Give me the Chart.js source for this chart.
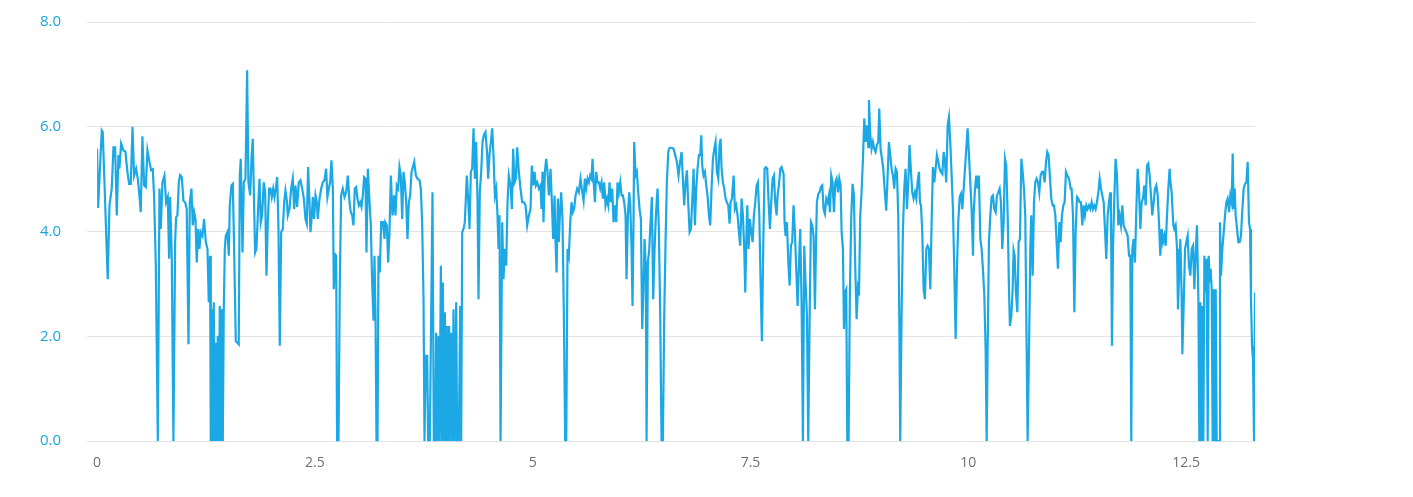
<!DOCTYPE html>
<html>
<head>
<meta charset="utf-8">
<script src="https://cdn.jsdelivr.net/npm/chart.js@4.4.0/dist/chart.umd.min.js"></script>
<style>
  html, body { margin: 0; padding: 0; background: #fff; }
  #wrap { width: 1413px; height: 497px; position: relative; }
</style>
</head>
<body>
<div id="wrap"><canvas id="chart"></canvas></div>
<script>
'use strict';

// x positions of the samples
const timeValues = [
  0, 0.011, 0.054, 0.065, 0.122, 0.142, 0.168, 0.188, 0.207, 0.226, 0.245, 0.256, 0.276, 0.302,
  0.325, 0.348, 0.367, 0.387, 0.406, 0.425, 0.448, 0.467, 0.486, 0.501, 0.520, 0.540, 0.559, 0.578,
  0.601, 0.620, 0.639, 0.654, 0.674, 0.697, 0.716, 0.731, 0.750, 0.773, 0.792, 0.811, 0.827, 0.838,
  0.857, 0.876, 0.896, 0.907, 0.922, 0.938, 0.953, 0.972, 0.991, 1.010, 1.029, 1.049,
  1.064, 1.083, 1.098, 1.114, 1.129, 1.144, 1.160, 1.175, 1.190, 1.209, 1.228, 1.248, 1.267, 1.282,
  1.297, 1.305, 1.316, 1.328, 1.339, 1.351, 1.362, 1.374, 1.385, 1.397, 1.408, 1.420, 1.431, 1.443,
  1.454, 1.466, 1.477, 1.496, 1.512, 1.523, 1.542, 1.558, 1.573, 1.592, 1.611, 1.626, 1.638, 1.649,
  1.669, 1.684, 1.703, 1.722, 1.737, 1.757, 1.772, 1.787, 1.803, 1.814, 1.829, 1.848, 1.864, 1.879,
  1.894, 1.913, 1.929, 1.944, 1.959, 1.975, 1.990, 2.005, 2.021, 2.036, 2.051, 2.067, 2.082, 2.097,
  2.113, 2.132, 2.147, 2.162, 2.178,
  2.189, 2.208, 2.227, 2.246, 2.262, 2.277, 2.296, 2.315, 2.334, 2.354, 2.373, 2.392, 2.407, 2.422,
  2.438, 2.449, 2.465, 2.476, 2.491, 2.507, 2.522, 2.533, 2.553, 2.572, 2.591, 2.610, 2.629, 2.644,
  2.660, 2.675, 2.690, 2.706, 2.717, 2.729, 2.744, 2.755, 2.771, 2.786, 2.801, 2.820, 2.840, 2.859,
  2.878, 2.897, 2.912, 2.928, 2.943, 2.958, 2.974, 2.989, 3.004, 3.020, 3.035, 3.050, 3.065, 3.081,
  3.092, 3.108, 3.127, 3.142, 3.157, 3.173, 3.184, 3.196, 3.207, 3.219, 3.230, 3.245, 3.261, 3.280, 3.299,
  3.307, 3.326, 3.341, 3.356, 3.372, 3.391, 3.410, 3.425, 3.440, 3.456, 3.471, 3.486, 3.502, 3.517,
  3.532, 3.548, 3.563, 3.578, 3.594, 3.609, 3.624, 3.640, 3.659, 3.678, 3.701, 3.716, 3.731, 3.747,
  3.758, 3.773, 3.789, 3.800, 3.819, 3.850, 3.865, 3.881, 3.892, 3.904, 3.919, 3.930, 3.946, 3.957,
  3.969, 3.980, 3.992, 4.003, 4.014, 4.026, 4.041, 4.053, 4.064, 4.080, 4.091, 4.106, 4.122, 4.133,
  4.152, 4.168, 4.179, 4.191, 4.206, 4.221, 4.244, 4.259, 4.275, 4.290, 4.305, 4.321, 4.336, 4.351,
  4.367, 4.378, 4.393, 4.409, 4.424,
  4.439, 4.458, 4.478, 4.489, 4.504, 4.520, 4.535, 4.550, 4.566, 4.581, 4.596, 4.608, 4.619, 4.631,
  4.650, 4.665, 4.680, 4.696, 4.711, 4.726, 4.746, 4.761, 4.776, 4.791, 4.807, 4.822, 4.841, 4.860,
  4.879, 4.899, 4.918, 4.937, 4.956, 4.975, 4.990, 5.006, 5.021, 5.036, 5.052, 5.071, 5.090, 5.101,
  5.113, 5.124, 5.140, 5.155, 5.170, 5.186, 5.205, 5.220, 5.235, 5.251, 5.262, 5.274, 5.289, 5.300,
  5.312, 5.327, 5.342, 5.358, 5.373, 5.385, 5.400, 5.415, 5.431, 5.446, 5.461, 5.476, 5.492, 5.511, 5.530, 5.549,
  5.564, 5.584, 5.599, 5.614, 5.630, 5.645, 5.660, 5.675, 5.687, 5.698, 5.714, 5.729, 5.744, 5.760,
  5.775, 5.790, 5.806, 5.821, 5.836, 5.852, 5.867, 5.882, 5.897, 5.913, 5.928, 5.943, 5.959, 5.974,
  5.989, 6.005, 6.020, 6.035, 6.050, 6.066, 6.077, 6.093, 6.108, 6.119, 6.135, 6.146, 6.158, 6.165,
  6.181, 6.196, 6.211, 6.227, 6.242, 6.257, 6.272, 6.284, 6.299, 6.307, 6.322, 6.338, 6.353, 6.368,
  6.383, 6.399, 6.414, 6.433, 6.448, 6.464, 6.479, 6.494, 6.510, 6.525, 6.540, 6.556, 6.571, 6.598, 6.617, 6.636, 6.655, 6.674,
  6.690, 6.709, 6.724, 6.739, 6.755, 6.770, 6.785, 6.801, 6.816, 6.831, 6.847, 6.862, 6.877, 6.892,
  6.908, 6.923, 6.935, 6.946, 6.961, 6.977, 6.992, 7.007, 7.023, 7.038, 7.053, 7.069, 7.084, 7.099,
  7.114, 7.130, 7.145, 7.157, 7.168, 7.183, 7.199, 7.214, 7.229, 7.245, 7.260, 7.271, 7.287, 7.306,
  7.321, 7.336, 7.352, 7.367, 7.382, 7.398, 7.413, 7.428, 7.440, 7.451, 7.463, 7.478, 7.493, 7.509,
  7.524, 7.539, 7.555, 7.570, 7.585, 7.601, 7.616, 7.631, 7.646, 7.662, 7.677, 7.692, 7.708, 7.723,
  7.738, 7.754, 7.769, 7.784, 7.800,
  7.811, 7.826, 7.842, 7.857, 7.880, 7.891, 7.903, 7.918, 7.933, 7.949, 7.964, 7.979, 7.994, 8.010,
  8.025, 8.041, 8.056, 8.071, 8.087, 8.102, 8.117, 8.132, 8.148, 8.163, 8.178, 8.194, 8.209, 8.224,
  8.240, 8.251, 8.262, 8.278, 8.293, 8.308, 8.324, 8.339, 8.354, 8.370, 8.385, 8.400, 8.412, 8.427,
  8.442, 8.458, 8.473, 8.488, 8.504, 8.519, 8.534, 8.546, 8.561, 8.573, 8.584, 8.599, 8.611, 8.626,
  8.641, 8.657, 8.672, 8.687, 8.703, 8.718, 8.733, 8.745, 8.760, 8.775, 8.791, 8.806, 8.821, 8.837,
  8.852, 8.860, 8.875, 8.890, 8.905, 8.921,
  8.936, 8.951, 8.967, 8.978, 8.993, 9.009, 9.024, 9.039, 9.058, 9.074, 9.089, 9.104, 9.120, 9.135,
  9.150, 9.166, 9.181, 9.196, 9.208, 9.219, 9.234, 9.250, 9.265, 9.280, 9.296, 9.311, 9.326, 9.342,
  9.357, 9.372, 9.388, 9.403, 9.418, 9.434, 9.445, 9.457, 9.472, 9.487, 9.502, 9.518, 9.533, 9.548,
  9.564, 9.579, 9.594, 9.610, 9.625, 9.640, 9.656, 9.671, 9.686, 9.702, 9.717, 9.732, 9.747, 9.763,
  9.778, 9.793, 9.809, 9.824, 9.839, 9.855, 9.870, 9.885, 9.901, 9.916, 9.931, 9.947, 9.962, 9.977,
  9.992, 10.008, 10.023, 10.038, 10.054,
  10.061, 10.077, 10.092, 10.107, 10.122, 10.138, 10.153, 10.168, 10.184, 10.199, 10.211, 10.222, 10.237, 10.253,
  10.268, 10.283, 10.298, 10.314, 10.329, 10.344, 10.360, 10.375, 10.390, 10.406, 10.421, 10.436, 10.452, 10.467,
  10.478, 10.494, 10.509, 10.520, 10.532, 10.547, 10.563, 10.578, 10.593, 10.609, 10.624, 10.639, 10.654, 10.670,
  10.681, 10.697, 10.712, 10.723, 10.739, 10.754, 10.769, 10.784, 10.800, 10.815, 10.830, 10.846, 10.861, 10.876,
  10.892, 10.907, 10.922, 10.938, 10.953, 10.968, 10.983, 10.999, 11.014, 11.029, 11.045, 11.060, 11.075, 11.091,
  11.106, 11.121, 11.137, 11.156, 11.175,
  11.186, 11.202, 11.217, 11.232, 11.248, 11.263, 11.278, 11.293, 11.309, 11.324, 11.339, 11.355, 11.370, 11.385,
  11.401, 11.416, 11.431, 11.447, 11.462, 11.477, 11.493, 11.508, 11.523, 11.538, 11.554, 11.569, 11.584, 11.600,
  11.615, 11.630, 11.638, 11.649, 11.661, 11.676, 11.691, 11.707, 11.722, 11.737, 11.753, 11.768, 11.783, 11.799,
  11.814, 11.829, 11.845, 11.860, 11.871, 11.883, 11.898, 11.913, 11.929, 11.944, 11.959, 11.975, 11.990, 12.005,
  12.021, 12.036, 12.051, 12.066, 12.082, 12.097, 12.112, 12.128, 12.143, 12.158, 12.174, 12.189, 12.204, 12.220,
  12.235, 12.250, 12.266, 12.281, 12.296, 12.311,
  12.319, 12.334, 12.354, 12.365, 12.380, 12.396, 12.407, 12.419, 12.434, 12.449, 12.457, 12.472, 12.488, 12.503,
  12.518, 12.533, 12.549, 12.564, 12.579, 12.595, 12.610, 12.625, 12.641, 12.652, 12.664, 12.675, 12.687, 12.698,
  12.710, 12.725, 12.736, 12.748, 12.759, 12.771, 12.782, 12.794, 12.805, 12.817, 12.828, 12.840, 12.851, 12.878,
  12.889, 12.901, 12.916, 12.932, 12.947, 12.962, 12.977, 12.993, 13.008, 13.023, 13.035, 13.046, 13.058, 13.069,
  13.085, 13.100, 13.115, 13.130, 13.146, 13.161, 13.176, 13.192, 13.207, 13.222, 13.234, 13.245, 13.257, 13.268, 13.280, 13.291
];

// sample values, same order as timeValues
const signalValues = [
  5.58, 4.45, 5.93, 5.90, 3.09, 4.50, 4.82, 5.61, 5.61, 4.31, 5.46, 5.20, 5.68, 5.55,
  5.53, 5.14, 4.91, 4.91, 6.00, 5.07, 5.20, 5.01, 4.69, 4.37, 5.82, 4.88, 4.85, 5.55,
  5.33, 5.17, 5.19, 4.69, 3.35, 0, 4.82, 4.05, 4.94, 5.07, 4.56, 4.66, 3.48, 4.66,
  3.54, 0, 3.80, 4.27, 4.31, 4.94, 5.08, 5.04, 4.59, 4.56, 4.43, 1.85,
  4.56, 4.82, 4.12, 4.37, 4.24, 3.41, 4.05, 3.67, 3.99, 3.92, 4.24, 3.80, 3.67, 2.65,
  3.54, 0, 2.52, 0, 2.65, 0, 1.88, 0, 2.01, 0, 2.58, 0, 2.52, 0,
  2.52, 3.67, 3.92, 3.99, 3.54, 4.50, 4.88, 4.91, 3.67, 1.91, 1.88, 1.85, 5.07, 5.39,
  3.60, 4.94, 5.01, 7.08, 4.94, 4.69, 5.39, 5.77, 4.43, 3.60, 3.67, 4.43, 5.01, 4.18,
  4.31, 4.94, 4.75, 3.16, 4.18, 4.82, 4.82, 4.66, 4.82, 4.66, 4.82, 5.04, 4.05, 1.82,
  3.99, 4.05, 4.56, 4.78, 4.59,
  4.31, 4.43, 4.82, 5.01, 4.43, 4.88, 4.47, 4.94, 4.98, 4.82, 4.63, 4.24, 4.15, 5.23,
  4.56, 3.99, 4.31, 4.66, 4.24, 4.69, 4.56, 4.24, 4.63, 4.82, 4.94, 4.98, 5.20, 4.66,
  4.82, 4.94, 5.36, 4.82, 2.90, 3.57, 3.54, 0, 0, 3.03, 4.69, 4.82, 4.66, 4.75,
  5.07, 4.56, 4.37, 4.31, 4.12, 4.82, 4.85, 4.63, 4.50, 4.56, 4.47, 4.69, 5.04, 5.01,
  3.60, 5.20, 4.56, 4.12, 3.03, 2.30, 3.54, 2.39, 0, 0, 3.54, 3.22, 4.18, 4.18, 3.86,
  4.18, 4.12, 3.41, 3.99, 5.07, 4.31, 4.69, 4.31, 4.88, 4.82, 5.23, 5.07, 4.24, 5.14,
  4.94, 4.56, 3.86, 4.56, 4.69, 5.14, 5.23, 5.33, 5.07, 5.01, 4.98, 4.82, 4.18, 2.71,
  0, 1.63, 1.63, 0, 0, 4.75, 0, 0, 2.07, 0, 2.01, 0, 3.35, 0,
  3.03, 0, 2.46, 0, 2.20, 0, 2.20, 0, 2.07, 0, 2.52, 0, 2.65, 0,
  0, 2.58, 0, 3.99, 4.05, 4.18, 5.07, 4.63, 4.05, 5.14, 5.20, 5.97, 5.01, 5.71,
  4.56, 2.71, 4.75, 5.14, 5.71,
  5.84, 5.90, 5.46, 5.01, 5.46, 5.71, 5.97, 5.46, 4.69, 4.82, 4.31, 3.67, 4.31, 0,
  4.18, 3.09, 3.67, 3.35, 4.56, 5.07, 4.88, 4.43, 5.58, 4.94, 5.01, 5.61, 5.14, 4.82,
  4.56, 4.56, 4.50, 4.12, 4.31, 4.43, 5.26, 4.88, 5.14, 4.88, 4.94, 4.82, 4.88, 4.43,
  5.14, 4.18, 5.14, 5.39, 5.14, 4.69, 5.20, 4.56, 3.86, 4.69, 3.80, 3.22, 4.63, 3.80,
  4.31, 4.75, 4.24, 2.39, 0, 0, 3.67, 3.54, 4.18, 4.56, 4.37, 4.43, 4.69, 4.82, 4.75, 5.01,
  4.82, 4.59, 5.01, 4.82, 5.01, 4.94, 5.07, 5.01, 5.39, 5.01, 4.56, 5.14, 4.94, 4.94,
  4.82, 4.94, 4.63, 4.94, 4.50, 4.63, 4.50, 4.94, 4.56, 4.82, 4.18, 4.50, 4.18, 4.94,
  4.75, 4.94, 4.69, 4.69, 4.56, 4.31, 3.09, 4.31, 4.75, 4.56, 3.67, 2.58, 4.31, 5.71,
  5.07, 5.14, 4.75, 4.43, 4.24, 2.14, 2.90, 3.86, 3.29, 0, 3.41, 3.67, 4.18, 4.66,
  2.71, 3.67, 4.31, 4.82, 4.05, 2.39, 0, 0, 2.39, 3.80, 4.94, 5.52, 5.60, 5.60, 5.58, 5.46, 5.33, 5.07,
  5.30, 5.52, 5.01, 4.50, 4.94, 5.17, 4.56, 3.99, 4.05, 4.56, 5.20, 4.12, 4.82, 5.20,
  5.46, 5.46, 5.84, 5.26, 5.07, 5.14, 4.88, 4.69, 4.31, 4.12, 4.82, 5.39, 5.58, 5.71,
  5.14, 5.01, 5.65, 5.77, 5.20, 4.94, 4.82, 4.63, 4.56, 4.50, 4.15, 4.56, 4.63, 5.07,
  4.43, 4.50, 4.31, 3.99, 3.73, 4.63, 4.31, 3.67, 2.84, 3.80, 4.50, 3.67, 4.24, 3.99,
  3.80, 4.31, 4.56, 4.88, 4.94, 4.31, 3.03, 1.91, 3.67, 5.20, 5.23, 5.20, 4.56, 4.05,
  4.56, 5.01, 5.07, 4.56, 4.31,
  4.69, 4.88, 5.20, 5.23, 5.10, 4.18, 3.92, 4.18, 3.48, 2.97, 3.73, 3.80, 4.50, 3.99,
  3.29, 2.58, 3.35, 4.05, 2.58, 0, 3.73, 3.03, 2.39, 0, 2.26, 4.18, 4.12, 3.92,
  2.52, 3.67, 4.56, 4.72, 4.75, 4.85, 4.88, 4.43, 4.34, 4.63, 4.56, 4.69, 4.37, 5.07,
  4.94, 4.37, 4.94, 5.01, 4.75, 5.01, 4.88, 3.99, 3.67, 2.14, 2.84, 2.90, 0, 0,
  2.84, 4.31, 4.91, 4.69, 3.29, 2.33, 2.90, 2.78, 4.31, 4.75, 5.39, 6.16, 5.71, 6.03,
  5.61, 6.51, 5.84, 5.58, 5.71, 5.58,
  5.52, 5.65, 5.71, 6.35, 5.58, 5.39, 5.20, 4.82, 4.40, 5.07, 5.71, 5.46, 5.20, 5.07,
  4.82, 5.20, 5.14, 4.31, 2.39, 0, 2.39, 4.05, 4.82, 5.20, 4.43, 4.94, 5.65, 5.14,
  4.75, 4.63, 4.75, 4.63, 4.94, 5.14, 4.56, 4.50, 3.99, 2.90, 2.71, 3.67, 3.73, 3.67,
  2.90, 4.18, 5.23, 4.94, 5.20, 5.46, 5.33, 5.20, 5.14, 5.10, 5.52, 5.33, 4.94, 6.03,
  6.19, 5.71, 5.07, 4.43, 3.29, 1.95, 3.29, 4.18, 4.66, 4.72, 4.43, 4.82, 5.20, 5.58,
  5.97, 5.46, 4.94, 4.43, 3.54,
  4.31, 4.82, 5.07, 4.82, 5.07, 3.86, 3.67, 3.29, 2.78, 1.75, 0, 1.75, 3.80, 4.31,
  4.66, 4.69, 4.43, 4.37, 4.69, 4.75, 4.82, 4.56, 3.67, 4.18, 5.39, 5.26, 4.31, 2.90,
  2.20, 2.39, 2.90, 3.64, 3.54, 2.84, 2.46, 3.80, 3.86, 5.39, 5.14, 4.82, 4.31, 1.75,
  0, 1.75, 3.67, 4.31, 3.16, 4.56, 4.94, 5.01, 4.94, 4.75, 5.07, 5.14, 5.14, 4.94,
  5.33, 5.52, 5.46, 5.01, 4.63, 4.50, 4.50, 4.31, 3.80, 3.29, 4.18, 3.80, 4.31, 4.50,
  4.56, 5.14, 5.07, 5.01, 4.82,
  4.82, 4.31, 2.46, 3.99, 4.66, 4.63, 4.56, 4.56, 4.12, 4.50, 4.31, 4.50, 4.43, 4.50,
  4.43, 4.56, 4.43, 4.50, 4.43, 4.56, 4.75, 5.01, 4.82, 4.69, 4.56, 4.05, 3.48, 4.31,
  4.56, 4.75, 4.31, 1.82, 3.67, 4.63, 5.39, 5.07, 4.12, 4.31, 4.12, 4.50, 4.12, 4.05,
  3.99, 3.92, 3.54, 3.54, 0, 3.67, 3.86, 3.41, 4.43, 5.20, 4.82, 4.05, 4.56, 4.63,
  4.88, 4.50, 5.26, 5.30, 5.07, 4.69, 4.31, 4.56, 4.82, 4.88, 4.69, 4.18, 3.54, 4.05,
  3.80, 3.92, 3.73, 4.31, 4.82, 5.20,
  4.98, 4.75, 4.12, 4.05, 4.12, 3.67, 2.52, 3.16, 3.86, 2.78, 1.66, 2.58, 3.67, 3.80,
  3.92, 3.35, 3.16, 3.67, 3.73, 2.90, 3.60, 4.12, 2.71, 0, 2.65, 0, 2.58, 0,
  3.54, 2.84, 3.48, 0, 3.54, 3.03, 3.29, 2.90, 0, 2.90, 0, 2.90, 0, 0,
  4.18, 3.16, 3.67, 3.99, 4.31, 4.56, 4.63, 4.37, 4.69, 4.56, 5.49, 4.43, 4.82, 4.31,
  4.05, 3.80, 3.80, 3.92, 4.43, 4.82, 4.91, 4.94, 5.33, 4.18, 4.05, 2.71, 1.82, 1.56, 0, 2.84
];

const xTickValues = [0, 2.5, 5, 7.5, 10, 12.5];
const yTickValues = [0, 2, 4, 6, 8];

const LINE_COLOR = '#1ba8e4';
const Y_LABEL_COLOR = '#1ba3dd';
const X_LABEL_COLOR = '#6f6f6f';
const GRID_COLOR = '#e3e3e3';

const points = timeValues.map((t, i) => ({x: t, y: signalValues[i]}));

new Chart(document.getElementById('chart'), {
  type: 'line',
  data: {
    datasets: [{
      data: points,
      borderColor: LINE_COLOR,
      backgroundColor: LINE_COLOR,
      borderWidth: 2.2,
      pointRadius: 0,
      tension: 0,
      fill: false
    }]
  },
  options: {
    responsive: true,
    maintainAspectRatio: false,
    animation: false,
    devicePixelRatio: 1,
    layout: {
      padding: {left: 40, right: 158, top: 10, bottom: 13}
    },
    plugins: {
      legend: {display: false},
      tooltip: {enabled: false}
    },
    scales: {
      x: {
        type: 'linear',
        min: 0,
        max: timeValues[timeValues.length - 1],
        afterBuildTicks: axis => { axis.ticks = xTickValues.map(v => ({value: v})); },
        grid: {display: false, drawTicks: false},
        border: {display: false},
        ticks: {
          color: X_LABEL_COLOR,
          font: {family: 'Open Sans', size: 14},
          padding: 13,
          maxRotation: 0,
          callback: v => String(v)
        }
      },
      y: {
        min: 0,
        max: 8,
        afterBuildTicks: axis => { axis.ticks = yTickValues.map(v => ({value: v})); },
        grid: {color: GRID_COLOR, lineWidth: 1, drawTicks: true, tickLength: 10},
        border: {display: false},
        ticks: {
          color: Y_LABEL_COLOR,
          font: {family: 'Open Sans', size: 15},
          padding: 13,
          crossAlign: 'far',
          callback: v => Number(v).toFixed(1)
        }
      }
    }
  }
});
</script>
</body>
</html>
